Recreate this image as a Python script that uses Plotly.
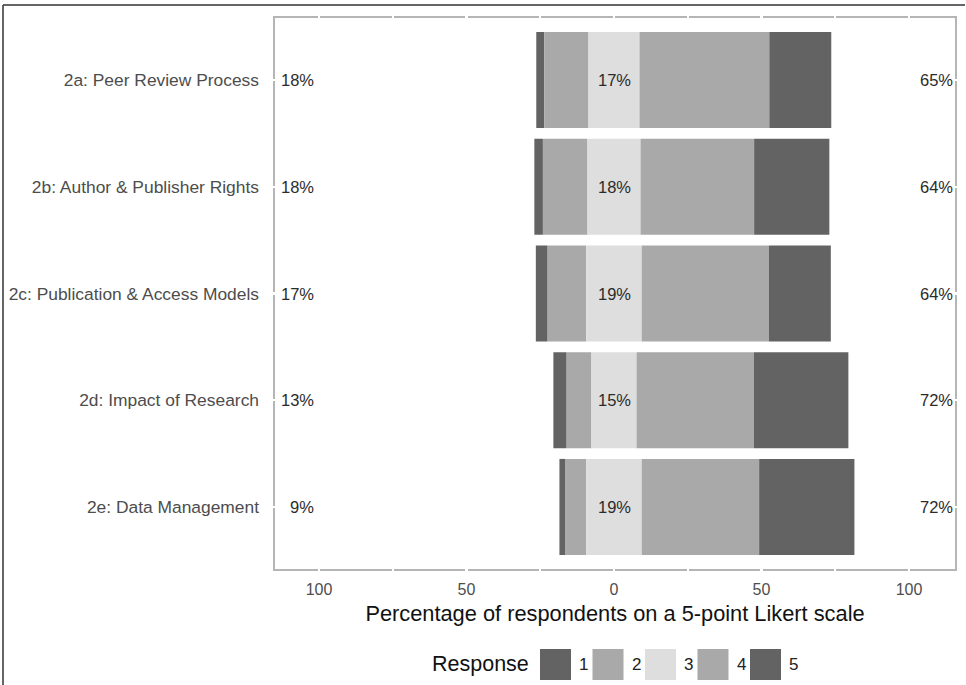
import plotly.graph_objects as go

# ---------------- data ----------------
items = [
    "2a: Peer Review Process",
    "2b: Author & Publisher Rights",
    "2c: Publication & Access Models",
    "2d: Impact of Research",
    "2e: Data Management",
]
responses = ["1", "2", "3", "4", "5"]
r1 = [2.7, 2.9, 4.0, 4.5, 1.9]
r2 = [15.0, 15.1, 13.1, 8.4, 7.2]
r3 = [17.3, 18.0, 18.8, 15.3, 18.8]
r4 = [44.0, 38.5, 43.1, 39.8, 39.8]
r5 = [21.0, 25.5, 21.0, 32.0, 32.3]
tick_vals = [-100, -50, 0, 50, 100]
tick_text = ["100", "50", "0", "50", "100"]
colors = ["#636363", "#a9a9a9", "#dedede", "#a9a9a9", "#636363"]

# ---------------- layout constants ----------------
W, H = 966, 685
L, R, T, B = 273, 9, 16, 114
PW, PH = W - L - R, H - T - B
FONT = "Liberation Sans, Arial, sans-serif"


def px_x(px):
    return (px - L) / PW


def px_y(py):
    return (H - B - py) / PH


fig = go.Figure()

# diverging stacked bars: neutral centred on 0, 1-2 to the left, 4-5 to the right
n = len(items)
base3 = [-r3[i] / 2 for i in range(n)]
base2 = [base3[i] - r2[i] for i in range(n)]
base1 = [base2[i] - r1[i] for i in range(n)]
base4 = [r3[i] / 2 for i in range(n)]
base5 = [base4[i] + r4[i] for i in range(n)]
segs = [
    (responses[0], r1, base1, colors[0]),
    (responses[1], r2, base2, colors[1]),
    (responses[2], r3, base3, colors[2]),
    (responses[3], r4, base4, colors[3]),
    (responses[4], r5, base5, colors[4]),
]
for name, vals, base, col in segs:
    fig.add_trace(go.Bar(
        y=items, x=vals, base=base, orientation="h", name=name,
        marker=dict(color=col, line=dict(width=0)),
        width=0.9, showlegend=False, hoverinfo="skip",
    ))

# percentage labels
annots = []
lab_font = dict(family=FONT, size=16.5, color="#2b2b2b")
for i, it in enumerate(items):
    low = r1[i] + r2[i]
    high = r4[i] + r5[i]
    neu = r3[i]
    annots.append(dict(x=-101, y=it, xref="x", yref="y", text=f"{round(low)}%",
                       xanchor="right", showarrow=False, font=lab_font))
    annots.append(dict(x=0, y=it, xref="x", yref="y", text=f"{round(neu)}%",
                       xanchor="center", showarrow=False, font=lab_font))
    annots.append(dict(x=103, y=it, xref="x", yref="y", text=f"{round(high)}%",
                       xanchor="left", showarrow=False, font=lab_font))

shapes = []
# panel border (under white gridlines)
shapes.append(dict(type="rect", xref="paper", yref="paper",
                   x0=1 / PW, x1=1 - 1 / PW, y0=1 / PH, y1=1 - 1 / PH,
                   line=dict(color="#b5b5b5", width=2), layer="below"))
# zero line
shapes.append(dict(type="line", xref="x", yref="paper", x0=0, x1=0, y0=0, y1=1,
                   line=dict(color="#111111", width=2), layer="between"))
# outer figure border (left and top visible)
shapes.append(dict(type="line", xref="paper", yref="paper",
                   x0=px_x(3), x1=px_x(3), y0=px_y(685), y1=px_y(5),
                   line=dict(color="#333333", width=1.5), layer="above"))
shapes.append(dict(type="line", xref="paper", yref="paper",
                   x0=px_x(3), x1=px_x(965), y0=px_y(5), y1=px_y(5),
                   line=dict(color="#333333", width=1.5), layer="above"))

# manual legend (large keys like ggplot)
annots.append(dict(x=px_x(531), y=px_y(664), xref="paper", yref="paper",
                   text="Response", xanchor="right", yanchor="middle", showarrow=False,
                   font=dict(family=FONT, size=21.5, color="#111111")))
key_left0, key_step, key_size = 540, 52.5, 31
for k, (lab, col) in enumerate(zip(responses, colors)):
    x0 = key_left0 + k * key_step
    shapes.append(dict(type="rect", xref="paper", yref="paper",
                       x0=px_x(x0), x1=px_x(x0 + key_size),
                       y0=px_y(649 + key_size), y1=px_y(649),
                       fillcolor=col, line=dict(width=0), layer="above"))
    annots.append(dict(x=px_x(x0 + key_size + 6), y=px_y(664), xref="paper", yref="paper",
                       text=lab, xanchor="left", yanchor="middle", showarrow=False,
                       font=dict(family=FONT, size=17, color="#222222")))

fig.update_layout(
    width=W, height=H,
    margin=dict(l=L, r=R, t=T, b=B, pad=0),
    paper_bgcolor="white", plot_bgcolor="white",
    barmode="overlay",
    showlegend=False,
    font=dict(family=FONT),
    annotations=annots, shapes=shapes,
    xaxis=dict(
        automargin=False,
        range=[-(614 - L) / 2.95, (L + PW - 614) / 2.95],
        tickvals=tick_vals, ticktext=tick_text,
        showgrid=True, gridcolor="white", gridwidth=2.5,
        minor=dict(dtick=25, tick0=0, showgrid=True, gridcolor="white", gridwidth=2),
        zeroline=False, showline=False, ticks="",
        ticklabelstandoff=7,
        tickfont=dict(family=FONT, size=16, color="#4d4d4d"),
        title=dict(text="Percentage of respondents on a 5-point Likert scale",
                   font=dict(family=FONT, size=21.8, color="#111111"), standoff=8),
    ),
    yaxis=dict(
        automargin=False,
        type="category", categoryorder="array", categoryarray=items,
        range=[4.6, -0.6],
        showgrid=True, gridcolor="white", gridwidth=2.5,
        zeroline=False, showline=False, ticks="",
        ticklabelstandoff=13,
        tickfont=dict(family=FONT, size=17.4, color="#4d4d4d"),
    ),
)

fig.write_html("out.html", config={"displayModeBar": False, "staticPlot": True},
               post_script="document.body.style.margin='0';")
